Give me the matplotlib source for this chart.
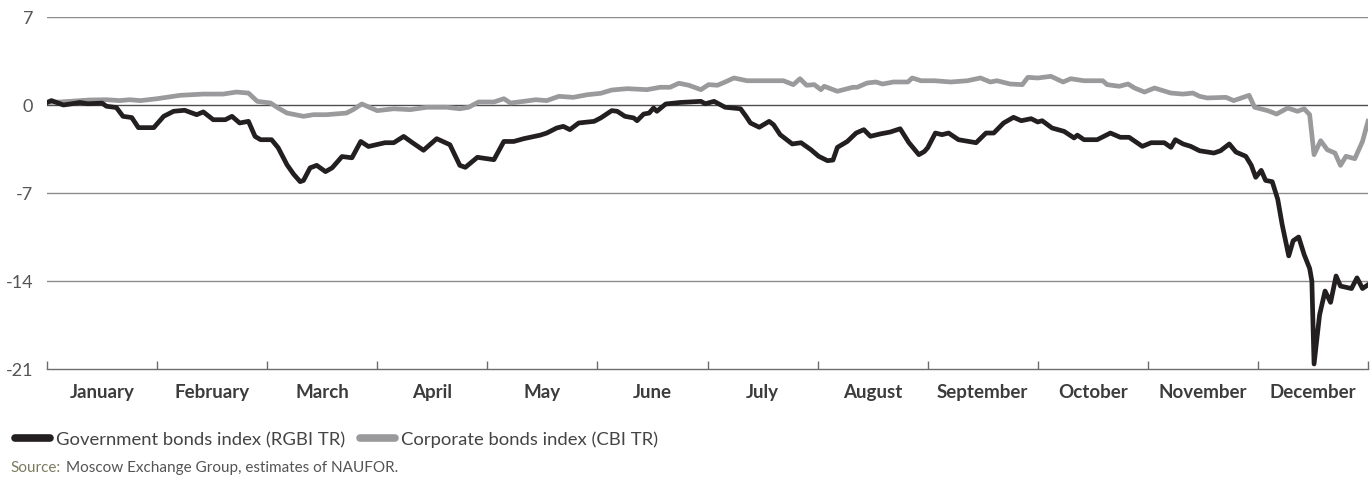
import matplotlib
matplotlib.use("Agg")
import matplotlib.pyplot as plt
from matplotlib.lines import Line2D

plt.rcParams['font.family'] = ['Lato', 'DejaVu Sans']

#---------- data (x in months from 1 January, value in %) ----------

months = ["January", "February", "March", "April", "May", "June", "July",
          "August", "September", "October", "November", "December"]
yticks = [7, 0, -7, -14, -21]

rgbi_x = [0.00, 0.04, 0.15, 0.30, 0.37, 0.50, 0.54, 0.63, 0.69, 0.77, 0.83, 0.97,
          1.06, 1.15, 1.25, 1.36, 1.42, 1.51, 1.62, 1.68, 1.75, 1.83, 1.89, 1.94,
          2.04, 2.10, 2.18, 2.24, 2.30, 2.33, 2.39, 2.45, 2.53, 2.59, 2.68, 2.77,
          2.85, 2.92, 3.07, 3.15, 3.24, 3.32, 3.42, 3.54, 3.66, 3.75, 3.80, 3.91,
          3.94, 4.06, 4.15, 4.24, 4.33, 4.48, 4.54, 4.63, 4.69, 4.75, 4.83, 4.97,
          5.03, 5.13, 5.18, 5.25, 5.33, 5.36, 5.42, 5.47, 5.51, 5.54, 5.62, 5.75,
          5.94, 5.98, 6.06, 6.16, 6.30, 6.35, 6.39, 6.47, 6.56, 6.60, 6.66, 6.77,
          6.85, 6.94, 7.01, 7.09, 7.14, 7.18, 7.27, 7.35, 7.42, 7.48, 7.57, 7.66,
          7.75, 7.83, 7.92, 7.97, 8.00, 8.07, 8.13, 8.19, 8.28, 8.44, 8.53, 8.60,
          8.69, 8.78, 8.85, 8.94, 9.00, 9.04, 9.13, 9.24, 9.33, 9.36, 9.42, 9.54,
          9.66, 9.75, 9.83, 9.95, 10.03, 10.15, 10.21, 10.25, 10.32, 10.39, 10.47,
          10.60, 10.66, 10.74, 10.80, 10.89, 10.94, 10.98, 11.03, 11.07, 11.13,
          11.18, 11.22, 11.28, 11.32, 11.37, 11.42, 11.47, 11.49, 11.51, 11.56,
          11.61, 11.66, 11.71, 11.75, 11.85, 11.90, 11.95, 12.00]
rgbi = [0.2, 0.35, 0.0, 0.2, 0.1, 0.15, -0.1, -0.2, -0.9, -1.0, -1.8, -1.8,
        -0.9, -0.5, -0.42, -0.77, -0.55, -1.17, -1.17, -0.9, -1.43, -1.3, -2.5, -2.76,
        -2.76, -3.4, -4.75, -5.5, -6.1, -6.0, -5.0, -4.8, -5.3, -5.0, -4.1, -4.2,
        -2.9, -3.3, -3.0, -3.0, -2.5, -3.0, -3.6, -2.68, -3.16, -4.8, -4.96, -4.16,
        -4.2, -4.35, -2.9, -2.9, -2.68, -2.4, -2.23, -1.83, -1.7, -1.96, -1.43, -1.3,
        -1.03, -0.45, -0.5, -0.9, -1.03, -1.25, -0.72, -0.64, -0.24, -0.5, 0.08, 0.2,
        0.29, 0.1, 0.29, -0.18, -0.3, -0.9, -1.43, -1.77, -1.3, -1.57, -2.36, -3.1,
        -3.0, -3.56, -4.08, -4.43, -4.38, -3.37, -2.9, -2.23, -1.96, -2.49, -2.3, -2.15,
        -1.89, -3.0, -3.95, -3.7, -3.4, -2.23, -2.36, -2.23, -2.76, -3.0, -2.23, -2.23,
        -1.43, -0.98, -1.25, -1.09, -1.35, -1.25, -1.83, -2.1, -2.62, -2.4, -2.76, -2.76,
        -2.23, -2.57, -2.57, -3.29, -3.0, -3.0, -3.37, -2.76, -3.1, -3.29, -3.64,
        -3.82, -3.64, -3.1, -3.74, -4.08, -4.8, -5.75, -5.2, -6.0, -6.1,
        -7.5, -9.5, -12.0, -10.8, -10.5, -11.9, -13.0, -14.0, -20.6, -16.7,
        -14.8, -15.7, -13.6, -14.4, -14.6, -13.75, -14.6, -14.3]

cbi_x = [0.00, 0.12, 0.39, 0.54, 0.66, 0.75, 0.85, 1.00, 1.21, 1.42, 1.60, 1.72,
         1.83, 1.91, 2.03, 2.10, 2.18, 2.33, 2.42, 2.54, 2.72, 2.78, 2.86, 3.00,
         3.15, 3.30, 3.45, 3.63, 3.75, 3.83, 3.92, 4.06, 4.15, 4.21, 4.33, 4.44,
         4.54, 4.65, 4.78, 4.91, 5.03, 5.13, 5.27, 5.45, 5.57, 5.66, 5.74, 5.83,
         5.94, 6.01, 6.09, 6.16, 6.24, 6.36, 6.54, 6.69, 6.78, 6.84, 6.90, 6.97,
         7.03, 7.06, 7.18, 7.32, 7.36, 7.45, 7.53, 7.59, 7.69, 7.82, 7.86, 7.94,
         8.06, 8.21, 8.36, 8.48, 8.57, 8.63, 8.75, 8.86, 8.91, 9.00, 9.12, 9.23,
         9.30, 9.42, 9.59, 9.63, 9.74, 9.82, 9.88, 9.97, 10.06, 10.21, 10.32, 10.41,
         10.47, 10.54, 10.71, 10.78, 10.92, 10.97, 11.09, 11.17, 11.27, 11.36, 11.42,
         11.47, 11.51, 11.57, 11.63, 11.70, 11.75, 11.80, 11.88, 11.95, 12.00]
cbi = [0.2, 0.24, 0.4, 0.42, 0.35, 0.42, 0.35, 0.5, 0.77, 0.87, 0.87, 1.03,
       0.95, 0.29, 0.16, -0.24, -0.64, -0.9, -0.77, -0.77, -0.64, -0.37, 0.08, -0.45,
       -0.3, -0.37, -0.18, -0.18, -0.3, -0.18, 0.24, 0.24, 0.5, 0.16, 0.29, 0.42,
       0.35, 0.69, 0.61, 0.82, 0.93, 1.19, 1.3, 1.22, 1.41, 1.41, 1.73, 1.57,
       1.22, 1.62, 1.57, 1.83, 2.15, 1.93, 1.93, 1.93, 1.62, 2.09, 1.57, 1.62,
       1.22, 1.49, 1.09, 1.41, 1.41, 1.75, 1.83, 1.67, 1.83, 1.83, 2.15, 1.93,
       1.93, 1.83, 1.93, 2.15, 1.83, 1.93, 1.67, 1.62, 2.2, 2.15, 2.28, 1.83,
       2.09, 1.93, 1.93, 1.62, 1.49, 1.67, 1.35, 1.03, 1.35, 0.95, 0.87, 0.95,
       0.69, 0.56, 0.61, 0.35, 0.77, -0.18, -0.45, -0.72, -0.24, -0.5, -0.3,
       -0.77, -3.95, -2.84, -3.56, -3.82, -4.8, -4.08, -4.27, -2.9, -1.3]

#---------- plot ------------------------------------------

fig = plt.figure(figsize=(13.72, 4.81), dpi=100)
ax = fig.add_axes([47/1372., 1-370/481., (1368-47)/1372., (370-18)/481.])

for y in yticks:
    if y == 0:
        ax.axhline(y, color='#4d4d4d', lw=1.0, zorder=1)
    elif y != -21:
        ax.axhline(y, color='#8c8c8c', lw=1.0, zorder=1)

ax.plot(cbi_x, cbi, color='#9a9a9c', lw=3.4, zorder=3, solid_joinstyle='round')
ax.plot(rgbi_x, rgbi, color='#231f20', lw=3.4, zorder=4, solid_joinstyle='round')

ax.set_xlim(0, 12)
ax.set_ylim(-21, 7)

for s in ['top', 'right', 'left']:
    ax.spines[s].set_visible(False)
ax.spines['bottom'].set_color('#6d6d6d')
ax.spines['bottom'].set_linewidth(1.0)

ax.set_yticks(yticks)
ax.set_yticklabels([str(v) for v in yticks])
ax.tick_params(axis='y', length=0, pad=10, labelsize=13, labelcolor='#555555')

ax.set_xticks(range(13))
ax.set_xticklabels([''] * 13)
ax.set_xticks([i + 0.5 for i in range(12)], minor=True)
ax.set_xticklabels(months, minor=True, fontweight='bold')
ax.tick_params(axis='x', which='major', direction='in', length=6, width=1.0, color='#6d6d6d')
ax.tick_params(axis='x', which='minor', length=0, pad=10, labelsize=13.5, labelcolor='#3c3c3c')

handles = [Line2D([0], [0], color='#231f20', lw=5.5, solid_capstyle='round'),
           Line2D([0], [0], color='#9a9a9c', lw=5.5, solid_capstyle='round')]
leg = fig.legend(handles, ["Government bonds index (RGBI TR)", "Corporate bonds index (CBI TR)"],
                 loc='center left', bbox_to_anchor=(8/1372., 1-440/481.), ncol=2, frameon=False,
                 handlelength=1.9, handletextpad=0.3, columnspacing=0.8, borderaxespad=0,
                 fontsize=13.3)
for t in leg.get_texts():
    t.set_color('#444444')

fig.text(10/1372., 1-468/481., "Source:", fontsize=11, color='#7b7b5f', va='center', ha='left')
fig.text(66/1372., 1-468/481., "Moscow Exchange Group, estimates of NAUFOR.", fontsize=11,
         color='#555555', va='center', ha='left')

plt.savefig("out.png", dpi=100)
